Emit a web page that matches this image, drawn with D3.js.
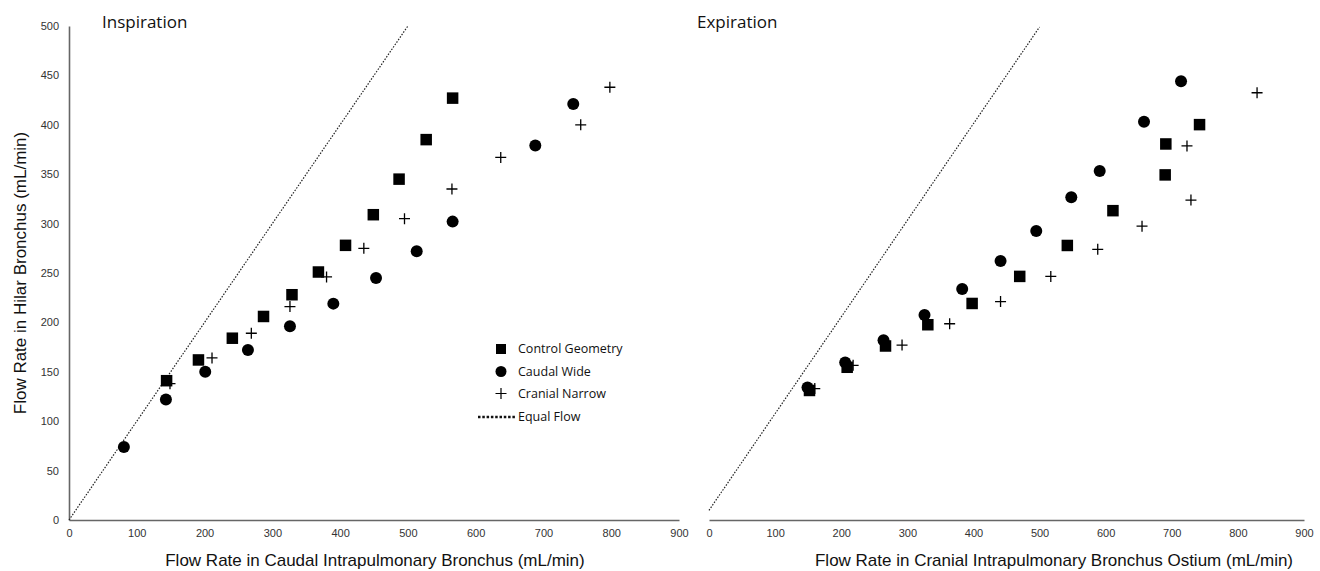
<!DOCTYPE html>
<html>
<head>
<meta charset="utf-8">
<script src="https://cdn.jsdelivr.net/npm/d3@7"></script>
<style>
  body { margin: 0; background: #fff; }
  .tick text { font-family: "Liberation Sans", Arial, sans-serif; font-size: 11px; fill: #333; }
  .axis-title { font-family: "Liberation Sans", Arial, sans-serif; font-size: 17px; fill: #111; }
  .panel-title { font-family: "Open Sans", sans-serif; font-size: 17px; fill: #111; }
  .legend text { font-family: "Open Sans", sans-serif; font-size: 12.5px; fill: #111; }
</style>
</head>
<body>
<svg id="chart" width="1320" height="571"></svg>
<script>
// ticks
const xTicks = [0, 100, 200, 300, 400, 500, 600, 700, 800, 900];
const yTicks = [0, 50, 100, 150, 200, 250, 300, 350, 400, 450, 500];
const equalFlow = [[0, 0], [500, 500]];

// Inspiration: [caudal intrapulmonary, hilar]
const inspControl = [[144, 141], [191, 162], [241, 184], [287, 206], [329, 228], [368, 251], [408, 278], [449, 309], [487, 345], [527, 385], [566, 427]];
const inspCaudalWide = [[81, 74], [143, 122], [201, 150], [264, 172], [326, 196], [390, 219], [453, 245], [513, 272], [566, 302], [688, 379], [744, 421]];
const inspCranialNarrow = [[149, 138], [211, 164], [269, 189], [326, 216], [380, 246], [435, 275], [495, 305], [565, 335], [637, 367], [755, 400], [798, 438]];

// Expiration: [cranial intrapulmonary ostium, hilar]
const expControl = [[152, 124], [209, 148], [267, 170], [331, 192], [398, 214], [470, 242], [542, 274], [611, 310], [690, 347], [691, 379], [742, 399]];
const expCaudalWide = [[149, 127], [206, 153], [264, 176], [326, 202], [383, 229], [441, 258], [495, 289], [548, 324], [591, 351], [658, 402], [714, 444]];
const expCranialNarrow = [[160, 126], [218, 150], [292, 171], [364, 193], [441, 216], [517, 242], [588, 270], [655, 294], [729, 321], [723, 377], [829, 432]];

const legendLabels = ["Control Geometry", "Caudal Wide", "Cranial Narrow", "Equal Flow"];

const svg = d3.select("#chart");

const plusPath = "M-5.5,0H5.5M0,-5.5V5.5";

function drawPoints (g, x, y, control, wide, narrow) {
  g.selectAll(".sq").data(control).enter().append("rect")
    .attr("class", "sq")
    .attr("x", (d) => x(d[0]) - 5.75)
    .attr("y", (d) => y(d[1]) - 5.75)
    .attr("width", 11.5)
    .attr("height", 11.5)
    .attr("fill", "#000");

  g.selectAll(".dot").data(wide).enter().append("circle")
    .attr("class", "dot")
    .attr("cx", (d) => x(d[0]))
    .attr("cy", (d) => y(d[1]))
    .attr("r", 6)
    .attr("fill", "#000");

  g.selectAll(".plus").data(narrow).enter().append("path")
    .attr("class", "plus")
    .attr("d", plusPath)
    .attr("transform", (d) => "translate(" + x(d[0]) + "," + y(d[1]) + ")")
    .attr("stroke", "#000")
    .attr("stroke-width", 1.3)
    .attr("fill", "none");
}

function drawEqual (g, x, y) {
  g.append("path")
    .datum(equalFlow)
    .attr("d", d3.line().x((d) => x(d[0])).y((d) => y(d[1])))
    .attr("stroke", "#222")
    .attr("stroke-width", 1.2)
    .attr("stroke-dasharray", "1.5,1.5")
    .attr("fill", "none");
}

function styleAxis (a) {
  a.select(".domain").attr("stroke", "#666").attr("stroke-width", 1.6);
  a.selectAll(".tick line").remove();
}

// ---- Inspiration panel
const xL = d3.scaleLinear().domain([0, 900]).range([69, 679]);
const yL = d3.scaleLinear().domain([0, 500]).range([520, 26]);
const gL = svg.append("g");

const axL = gL.append("g")
  .attr("transform", "translate(0," + yL(0) + ")")
  .call(d3.axisBottom(xL).tickValues(xTicks).tickSize(0).tickPadding(9).tickFormat(d3.format("d")));
styleAxis(axL);

const ayL = gL.append("g")
  .attr("transform", "translate(" + xL(0) + ",0)")
  .call(d3.axisLeft(yL).tickValues(yTicks).tickSize(0).tickPadding(10).tickFormat(d3.format("d")));
styleAxis(ayL);

drawEqual(gL, xL, yL);
drawPoints(gL, xL, yL, inspControl, inspCaudalWide, inspCranialNarrow);

gL.append("text").attr("class", "panel-title").attr("x", 102).attr("y", 28).text("Inspiration");
gL.append("text").attr("class", "axis-title")
  .attr("x", 375).attr("y", 566).attr("text-anchor", "middle")
  .text("Flow Rate in Caudal Intrapulmonary Bronchus (mL/min)");
gL.append("text").attr("class", "axis-title")
  .attr("transform", "translate(26,273) rotate(-90)")
  .attr("text-anchor", "middle")
  .text("Flow Rate in Hilar Bronchus (mL/min)");

// legend
const lg = svg.append("g").attr("class", "legend");
const rows = [349, 371.5, 393.5, 417];
lg.append("rect").attr("x", 496).attr("y", rows[0] - 5).attr("width", 10).attr("height", 10).attr("fill", "#000");
lg.append("circle").attr("cx", 501).attr("cy", rows[1]).attr("r", 5.5).attr("fill", "#000");
lg.append("path").attr("d", plusPath).attr("transform", "translate(501," + rows[2] + ")")
  .attr("stroke", "#000").attr("stroke-width", 1.2);
lg.append("line").attr("x1", 478).attr("x2", 516).attr("y1", rows[3]).attr("y2", rows[3])
  .attr("stroke", "#111").attr("stroke-width", 2.5).attr("stroke-dasharray", "2.5,1.8");
lg.selectAll("text").data(legendLabels).enter().append("text")
  .attr("x", 518)
  .attr("y", (d, i) => rows[i])
  .attr("dy", "0.35em")
  .text((d) => d);

// ---- Expiration panel
const xR = d3.scaleLinear().domain([0, 900]).range([709, 1304]);
const yR = d3.scaleLinear().domain([-10, 500]).range([520, 27]);
const gR = svg.append("g");

const axR = gR.append("g")
  .attr("transform", "translate(0,520)")
  .call(d3.axisBottom(xR).tickValues(xTicks).tickSize(0).tickPadding(9).tickFormat(d3.format("d")));
styleAxis(axR);

drawEqual(gR, xR, yR);
drawPoints(gR, xR, yR, expControl, expCaudalWide, expCranialNarrow);

gR.append("text").attr("class", "panel-title").attr("x", 697).attr("y", 28).text("Expiration");
gR.append("text").attr("class", "axis-title")
  .attr("x", 1054).attr("y", 566).attr("text-anchor", "middle")
  .text("Flow Rate in Cranial Intrapulmonary Bronchus Ostium (mL/min)");
</script>
</body>
</html>
